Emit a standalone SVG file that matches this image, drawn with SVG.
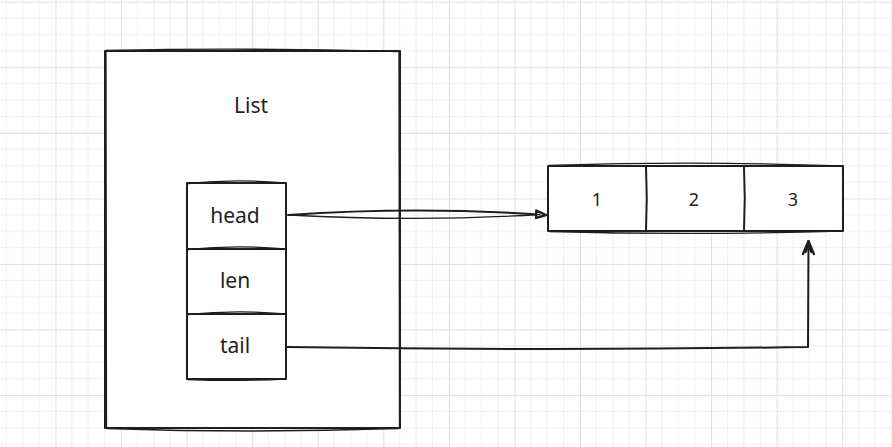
<svg xmlns="http://www.w3.org/2000/svg" width="892" height="447" viewBox="0 0 892 447">
<defs>
<pattern id="grid" patternUnits="userSpaceOnUse" x="55.5" y="1.7" width="65.56" height="65.56">
<path d="M16.39,0V65.56M32.78,0V65.56M49.17,0V65.56M0,16.39H65.56M0,32.78H65.56M0,49.17H65.56" stroke="#f0f0f0" stroke-width="1" fill="none"/>
<path d="M0.5,0V65.56M0,0.5H65.56" stroke="#dedede" stroke-width="1" fill="none"/>
</pattern>
<marker id="tri" viewBox="0 0 12 10" refX="11" refY="5" markerWidth="12" markerHeight="10" markerUnits="userSpaceOnUse" orient="auto">
<path d="M1,1.2 L11,5 L1,8.8 Z" fill="#ffffff" stroke="#1e1e1e" stroke-width="2.4" stroke-linejoin="round"/>
</marker>
<marker id="open" viewBox="0 0 16 14" refX="15" refY="7" markerWidth="16" markerHeight="14" markerUnits="userSpaceOnUse" orient="auto">
<path d="M2,1.5 L15,7 L2,12.5 M4,4 L11,7 L4,10" fill="none" stroke="#1e1e1e" stroke-width="2.4" stroke-linejoin="round" stroke-linecap="round"/>
</marker>
</defs>
<style>
.s{fill:none;stroke:#1e1e1e;stroke-width:2;stroke-linecap:round;stroke-linejoin:round}
.t{stroke-width:1.3}
.bg{fill:#ffffff}
.lbl{font-family:"Noto Sans","Liberation Sans",sans-serif;font-size:21px;fill:#1e1e1e;text-anchor:middle}
.num{font-family:"Noto Sans","Liberation Sans",sans-serif;font-size:18px;fill:#1e1e1e;text-anchor:middle}
</style>
<rect width="892" height="447" fill="#ffffff"/>
<rect width="892" height="447" fill="url(#grid)"/>

<g id="list">
<rect class="bg" x="105" y="51" width="295" height="377"/>
<path class="s" d="M105,51 L400,51 L400,428 L105,428 Z"/>
<path class="s t" d="M106,50.5 Q252,47.5 399,51.5"/>
<path class="s t" d="M106,50.5 L106.5,427"/>
<path class="s t" d="M107,428.5 Q252,433.5 398,428.5"/>
<path class="s t" d="M399,52 L399.5,427.5"/>
<text class="lbl" x="251" y="113">List</text>
</g>

<g id="head">
<rect class="bg" x="187" y="183" width="99" height="66"/>
<path class="s" d="M187,183 L286,183 L286,249 L187,249 Z"/>
<path class="s t" d="M188,183.5 Q236,178.5 285,183"/>
<text class="lbl" x="235" y="223">head</text>
</g>

<g id="len">
<path class="s" d="M187,249 L286,249 L286,314 L187,314 Z"/>
<path class="s t" d="M188,249.5 Q236,244.5 285,249"/>
<text class="lbl" x="235" y="288">len</text>
</g>

<g id="tail">
<rect class="bg" x="187" y="314" width="99" height="65"/>
<path class="s" d="M187,314 L286,314 L286,379 L187,379 Z"/>
<path class="s t" d="M188,314.5 Q236,309.5 285,314"/>
<path class="s t" d="M188,379.5 Q236,381.5 285,379"/>
<text class="lbl" x="235" y="353">tail</text>
</g>

<g id="array">
<rect class="bg" x="548" y="166" width="295" height="65"/>
<path class="s" d="M548,166 L843,166 L843,231 L548,231 Z"/>
<path class="s t" d="M549,165.5 Q696,160.5 842,166"/>
<path class="s t" d="M549,231.5 Q696,235.5 842,231"/>
<path class="s" d="M646,166.5 Q647.5,198 646,230.5"/>
<path class="s" d="M744,166.5 Q745.5,198 744,230.5"/>
<text class="num" x="597" y="206">1</text>
<text class="num" x="694" y="206">2</text>
<text class="num" x="793" y="206">3</text>
</g>

<g id="connectors">
<path class="s" d="M288,215 Q418,206 546,215" marker-end="url(#tri)"/>
<path class="s t" d="M289,215 Q418,222 540,214.5"/>
<path class="s" d="M287,347 Q550,351 808,347 L808.5,241" marker-end="url(#open)"/>
</g>
</svg>
